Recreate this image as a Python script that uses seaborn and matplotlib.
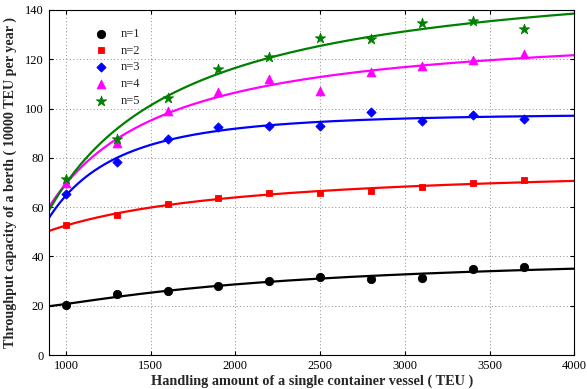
import numpy as np
import pandas as pd
import matplotlib
matplotlib.use("Agg")
import matplotlib.pyplot as plt
import seaborn as sns

# Vessel size (TEU) and berth throughput (10000 TEU / year) for n = 1..5
vessel_teu = [1000, 1300, 1600, 1900, 2200, 2500, 2800, 3100, 3400, 3700]
cap_n1 = [20.3, 24.6, 25.8, 27.9, 30.0, 31.5, 30.7, 31.1, 34.9, 35.7]
cap_n2 = [52.6, 57.0, 61.2, 63.8, 65.8, 65.9, 66.7, 68.0, 69.6, 71.0]
cap_n3 = [65.3, 78.2, 87.6, 92.4, 92.9, 92.8, 98.7, 94.8, 97.4, 95.6]
cap_n4 = [69.8, 85.9, 99.2, 106.9, 112.0, 107.3, 114.7, 117.2, 119.7, 122.0]
cap_n5 = [71.3, 87.8, 104.3, 116.0, 121.0, 128.8, 128.1, 134.6, 135.5, 132.2]

series_labels = ["n=1", "n=2", "n=3", "n=4", "n=5"]
series_values = [cap_n1, cap_n2, cap_n3, cap_n4, cap_n5]
colors = ["black", "red", "blue", "magenta", "green"]
markers = ["o", "s", "D", "^", "*"]
marker_sizes = [36, 16, 22, 40, 60]

x_ticks = [1000, 1500, 2000, 2500, 3000, 3500, 4000]
y_ticks = [0, 20, 40, 60, 80, 100, 120, 140]

points = pd.DataFrame({
    "teu": np.tile(vessel_teu, len(series_labels)),
    "capacity": np.concatenate(series_values),
    "series": np.repeat(series_labels, len(vessel_teu)),
})

# Least-squares fitted trend for each series: y = a + b/x + c/x^2
x_grid = np.linspace(900, 4000, 300)


def basis(x):
    x = np.asarray(x, dtype=float) / 1000.0
    return np.column_stack([np.ones_like(x), 1.0 / x, 1.0 / x ** 2])


fit_rows = []
for label, vals in zip(series_labels, series_values):
    coef, *_ = np.linalg.lstsq(basis(vessel_teu), np.asarray(vals), rcond=None)
    fit_rows.append(pd.DataFrame({"teu": x_grid,
                                  "capacity": basis(x_grid) @ coef,
                                  "series": label}))
fits = pd.concat(fit_rows, ignore_index=True)

sns.set_style("white")
plt.rcParams["font.family"] = ["Liberation Serif", "DejaVu Serif"]

fig = plt.figure(figsize=(5.87, 3.89), dpi=100)
ax = fig.add_axes([0.0835, 0.0874, 0.895, 0.887])

palette = dict(zip(series_labels, colors))
sns.lineplot(data=fits, x="teu", y="capacity", hue="series", palette=palette,
             linewidth=1.6, legend=False, ax=ax, zorder=2)

for label, m, s in zip(series_labels, markers, marker_sizes):
    sub = points[points["series"] == label]
    sns.scatterplot(data=sub, x="teu", y="capacity", color=palette[label],
                    marker=m, s=s, edgecolor=palette[label], linewidth=0.6,
                    label=label, ax=ax, zorder=3)

ax.set_xlim(900, 4000)
ax.set_ylim(0, 140)
ax.set_xticks(x_ticks)
ax.set_yticks(y_ticks)
ax.grid(True, linestyle=(0, (1.0, 2.5)), color="#8c8c8c", linewidth=0.7)
for sp in ax.spines.values():
    sp.set_color("black")
    sp.set_linewidth(0.8)
ax.tick_params(axis="both", labelsize=9, direction="in", length=3,
               colors="black", left=True, bottom=True, right=True, top=True)

ax.set_xlabel("Handling amount of a single container vessel ( TEU )",
              fontsize=10.3, fontweight="bold", labelpad=2)
ax.set_ylabel("Throughput capacity of a berth ( 10000 TEU per year )",
              fontsize=10.2, fontweight="bold", labelpad=6)

leg = ax.legend(loc="upper left", bbox_to_anchor=(0.06, 0.97), frameon=False,
                fontsize=9, handletextpad=0.6, labelspacing=0.38,
                borderaxespad=0.2)

fig.savefig("out.png", dpi=100)
